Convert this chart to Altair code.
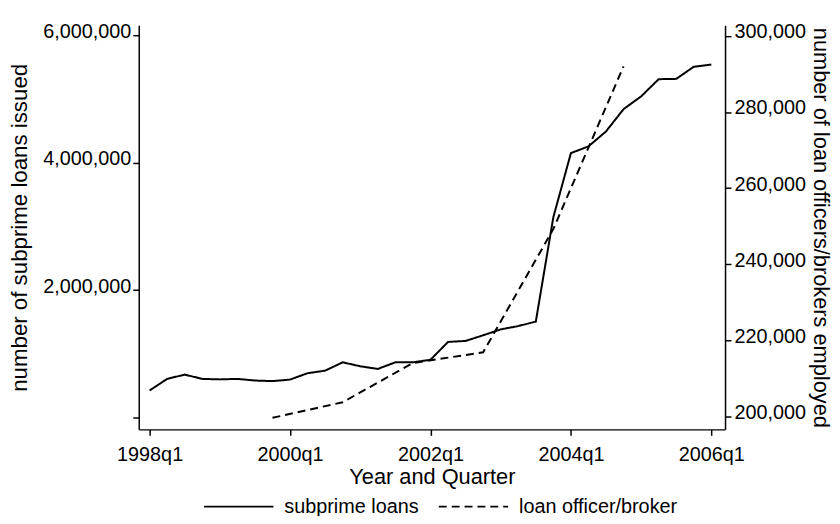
import altair as alt
import pandas as pd

# ---- data ----
sub_quarters = [
    "1998q1", "1998q2", "1998q3", "1998q4",
    "1999q1", "1999q2", "1999q3", "1999q4",
    "2000q1", "2000q2", "2000q3", "2000q4",
    "2001q1", "2001q2", "2001q3", "2001q4",
    "2002q1", "2002q2", "2002q3", "2002q4",
    "2003q1", "2003q2", "2003q3", "2003q4",
    "2004q1", "2004q2", "2004q3", "2004q4",
    "2005q1", "2005q2", "2005q3", "2005q4",
    "2006q1",
]
sub_values = [
    424000, 606000, 673000, 606000,
    598000, 606000, 580000, 571000,
    595000, 695000, 735000, 866000,
    804000, 762000, 866000, 866000,
    906000, 1186000, 1202000, 1290000,
    1383000, 1435000, 1505000, 3145000,
    4150000, 4255000, 4490000, 4840000,
    5040000, 5310000, 5315000, 5505000,
    5540000,
]

off_quarters = ["1999q4", "2000q4", "2001q4", "2002q4", "2003q4", "2004q4"]
off_values = [199700, 203800, 214100, 216900, 249300, 292000]

series_names = ["subprime loans", "loan officer/broker"]
left_ticks = [0, 2000000, 4000000, 6000000]
right_ticks = [200000, 220000, 240000, 260000, 280000, 300000]
x_ticks = [1998, 2000, 2002, 2004, 2006]


def qnum(s):
    return int(s[:4]) + (int(s[-1]) - 1) / 4.0


sub_df = pd.DataFrame({
    "t": [qnum(q) for q in sub_quarters],
    "v": sub_values,
    "series": series_names[0],
})
off_df = pd.DataFrame({
    "t": [qnum(q) for q in off_quarters],
    "v": off_values,
    "series": series_names[1],
})

FONT = "Liberation Sans"

x_enc = alt.X(
    "t:Q",
    scale=alt.Scale(domain=[1997.845, 2006.195], nice=False, zero=False),
    axis=alt.Axis(
        values=x_ticks,
        labelExpr="floor(datum.value) + 'q' + (round((datum.value - floor(datum.value)) * 4) + 1)",
        title="Year and Quarter",
        titleFontSize=22,
        titlePadding=3,
        labelPadding=9,
        tickSize=6,
    ),
)

dash_scale = alt.Scale(domain=series_names, range=[[1, 0], [8, 5]])

solid = alt.Chart(sub_df).mark_line(color="black", strokeWidth=2).encode(
    x=x_enc,
    y=alt.Y(
        "v:Q",
        scale=alt.Scale(domain=[-186500, 6155700], nice=False, zero=False),
        axis=alt.Axis(
            values=left_ticks,
            labelExpr="datum.value == 0 ? '' : format(datum.value, ',')",
            title="number of subprime loans issued",
            titleFontSize=22.5,
            orient="left",
            tickSize=6,
            labelPadding=2,
            titlePadding=11,
            labelOffset=-4,
        ),
    ),
    strokeDash=alt.StrokeDash("series:N", scale=dash_scale, sort=series_names,
                              legend=alt.Legend(title=None)),
)

dashed = alt.Chart(off_df).mark_line(color="black", strokeWidth=2).encode(
    x=x_enc,
    y=alt.Y(
        "v:Q",
        scale=alt.Scale(domain=[196670, 302760], nice=False, zero=False),
        axis=alt.Axis(
            values=right_ticks,
            labelExpr="format(datum.value, ',')",
            title="number of loan officers/brokers employed",
            titleFontSize=22,
            orient="right",
            tickSize=6,
            labelPadding=3,
            titlePadding=3,
            labelOffset=-4,
        ),
    ),
    strokeDash=alt.StrokeDash("series:N", scale=dash_scale, sort=series_names,
                              legend=alt.Legend(title=None)),
)

chart = (
    alt.layer(solid, dashed)
    .resolve_scale(y="independent")
    .properties(
        width=592,
        height=408,
        autosize=alt.AutoSizeParams(type="none"),
        padding={"left": 132, "top": 15, "right": 108, "bottom": 85},
    )
    .configure_view(stroke=None)
    .configure_axis(
        grid=False,
        labelFont=FONT,
        labelFontSize=20,
        labelColor="black",
        titleFont=FONT,
        titleFontSize=20,
        titleFontWeight="normal",
        titleColor="black",
        domainColor="black",
        domainWidth=1.5,
        tickColor="black",
        tickWidth=1.5,
    )
    .configure_legend(
        orient="none",
        legendX=65,
        legendY=450,
        direction="horizontal",
        symbolType="stroke",
        symbolSize=4900,
        symbolStrokeColor="black",
        symbolStrokeWidth=2,
        labelFont=FONT,
        labelFontSize=20,
        labelColor="black",
        labelOffset=10,
        columnPadding=16,
        padding=0,
    )
)

chart.save("out.html", embed_options={"renderer": "svg", "actions": False})
